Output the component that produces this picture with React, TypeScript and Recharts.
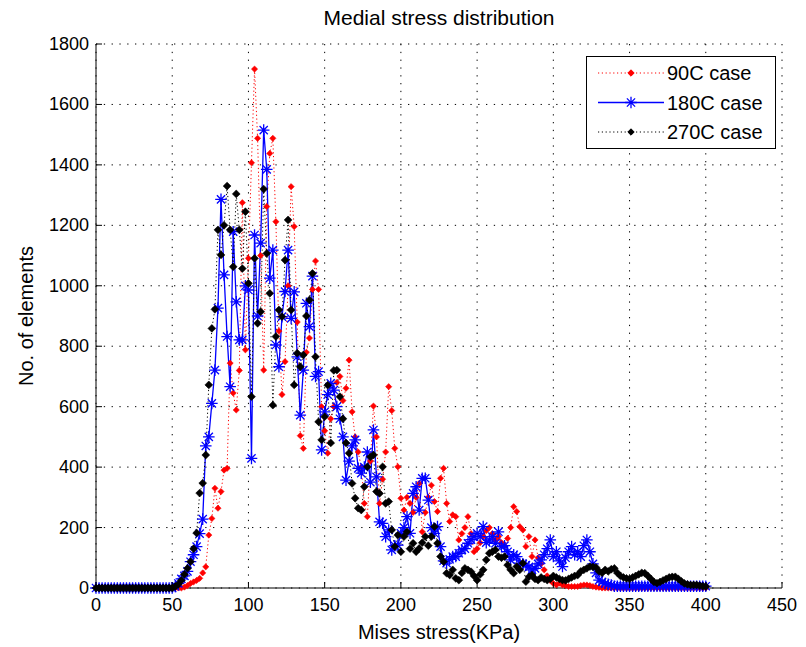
import React from 'react';
import { LineChart, Line, XAxis, YAxis, CartesianGrid, Legend } from 'recharts';

// Mises stress bins (KPa)
const stressKPa = [
  0, 2, 4, 6, 8, 10, 12, 14, 16, 18, 20, 22, 24, 26, 28, 30, 32, 34, 36, 38, 40, 42, 44, 46, 48, 50,
  52, 54, 56, 58, 60, 62, 64, 66, 68, 70, 72, 74, 76, 78, 80, 82, 84, 86, 88, 90, 92, 94, 96, 98,
  100, 102, 104, 106, 108, 110, 112, 114, 116, 118, 120, 122, 124, 126, 128, 130, 132, 134, 136, 138,
  140, 142, 144, 146, 148, 150, 152, 154, 156, 158, 160, 162, 164, 166, 168, 170, 172, 174, 176, 178,
  180, 182, 184, 186, 188, 190, 192, 194, 196, 198, 200, 202, 204, 206, 208, 210, 212, 214, 216, 218,
  220, 222, 224, 226, 228, 230, 232, 234, 236, 238, 240, 242, 244, 246, 248, 250, 252, 254, 256, 258,
  260, 262, 264, 266, 268, 270, 272, 274, 276, 278, 280, 282, 284, 286, 288, 290, 292, 294, 296, 298,
  300, 302, 304, 306, 308, 310, 312, 314, 316, 318, 320, 322, 324, 326, 328, 330, 332, 334, 336, 338,
  340, 342, 344, 346, 348, 350, 352, 354, 356, 358, 360, 362, 364, 366, 368, 370, 372, 374, 376, 378,
  380, 382, 384, 386, 388, 390, 392, 394, 396, 398, 400,
];

// 90C case
const case90 = [
  0, 0, 0, 0, 0, 0, 0, 0, 0, 0, 0, 0, 0, 0, 0, 0, 0, 0, 0, 0, 0, 0, 0, 0, 0, 0,
  0, 0, 0, 3, 8, 15, 20, 25, 32, 50, 70, 175, 230, 330, 264, 319, 390, 396, 744, 645, 589, 720, 1275, 788,
  1091, 1407, 1717, 1488, 1100, 721, 1262, 1438, 1488, 1212, 850, 640, 749, 1000, 1328, 1196, 880, 504, 462, 780,
  827, 988, 1082, 988, 600, 520, 446, 560, 600, 680, 700, 620, 661, 754, 583, 500, 450, 400, 280, 236,
  420, 602, 500, 280, 360, 450, 666, 587, 462, 401, 297, 258, 300, 280, 250, 300, 346, 186, 250, 300,
  340, 286, 253, 363, 396, 280, 220, 242, 236, 159, 180, 200, 236, 180, 120, 130, 150, 170, 190, 200,
  180, 160, 170, 150, 140, 164, 200, 269, 253, 203, 192, 137, 170, 104, 159, 100, 80, 60, 40, 25,
  15, 10, 16, 10, 8, 5, 5, 5, 5, 8, 10, 10, 8, 5, 3, 2, 0, 0, 0, 0,
  0, 0, 0, 0, 0, 0, 0, 0, 0, 0, 0, 0, 0, 0, 0, 0, 0, 0, 0, 0,
  0, 0, 0, 0, 0, 0, 0, 0, 0, 0, 0,
];

// 180C case
const case180 = [
  0, 0, 0, 0, 0, 0, 0, 0, 0, 0, 0, 0, 0, 0, 0, 0, 0, 0, 0, 0, 0, 0, 0, 0, 0, 0,
  5, 15, 30, 40, 55, 87, 110, 137, 180, 228, 470, 500, 611, 721, 926, 1286, 1036, 832, 666, 1179, 947, 821, 821, 1000,
  986, 429, 1168, 900, 1141, 1515, 1385, 1025, 1118, 804, 732, 898, 981, 1118, 892, 980, 765, 572, 721, 942,
  865, 1032, 700, 716, 457, 583, 640, 677, 655, 600, 560, 500, 357, 420, 470, 490, 396, 380, 400, 450,
  350, 523, 368, 219, 214, 170, 192, 126, 140, 142, 181, 200, 236, 181, 313, 335, 258, 363, 363, 291,
  200, 181, 203, 137, 90, 82, 95, 104, 104, 115, 126, 130, 148, 160, 170, 181, 170, 203, 150, 159,
  170, 148, 186, 137, 140, 120, 93, 110, 104, 82, 80, 76, 70, 60, 65, 80, 93, 110, 130, 159,
  104, 120, 90, 71, 100, 120, 137, 110, 120, 104, 140, 159, 120, 80, 50, 26, 20, 15, 12, 10,
  6, 6, 6, 6, 6, 6, 6, 6, 6, 6, 6, 6, 6, 6, 6, 6, 6, 6, 6, 6,
  6, 6, 6, 6, 6, 6, 6, 6, 6, 6, 6,
];

// 270C case
const case270 = [
  0, 0, 0, 0, 0, 0, 0, 0, 0, 0, 0, 0, 0, 0, 0, 0, 0, 0, 0, 0, 0, 0, 0, 0, 0, 0,
  5, 12, 25, 45, 65, 87, 130, 182, 314, 347, 440, 672, 859, 922, 1185, 1102, 1200, 1330, 1185, 1063, 1304, 1185, 1057, 1245,
  1008, 633, 1091, 876, 914, 1320, 1107, 975, 605, 832, 920, 898, 1085, 1218, 920, 672, 777, 732, 771, 900,
  953, 1041, 765, 550, 490, 567, 671, 480, 720, 721, 633, 560, 480, 446, 346, 297, 264, 258, 335, 401,
  434, 440, 319, 313, 401, 280, 286, 192, 137, 175, 120, 170, 186, 130, 148, 120, 131, 150, 170, 140,
  170, 203, 148, 104, 87, 49, 43, 60, 32, 26, 50, 65, 60, 54, 40, 26, 45, 60, 93, 115,
  120, 126, 104, 100, 104, 76, 60, 49, 71, 60, 82, 21, 37, 43, 30, 26, 35, 30, 26, 30,
  40, 35, 30, 26, 25, 30, 35, 40, 43, 55, 60, 65, 71, 70, 68, 55, 50, 60, 55, 62,
  65, 50, 40, 35, 32, 30, 35, 40, 45, 50, 49, 40, 30, 20, 16, 20, 25, 30, 35, 37,
  37, 30, 22, 15, 12, 10, 10, 10, 8, 6, 5,
];

const xTicks = [0, 50, 100, 150, 200, 250, 300, 350, 400, 450];
const yTicks = [0, 200, 400, 600, 800, 1000, 1200, 1400, 1600, 1800];
const seriesNames = ['90C case', '180C case', '270C case'];
const titleText = 'Medial stress distribution';
const xLabelText = 'Mises stress(KPa)';
const yLabelText = 'No. of elements';

const data = stressKPa.map((x, i) => ({ x, c90: case90[i], c180: case180[i], c270: case270[i] }));

const FONT = "'Liberation Sans', Arial, Helvetica, sans-serif";
const RED = '#ff0000';
const BLUE = '#0000ff';
const BLACK = '#000000';

function diamond(cx: number, cy: number, r: number) {
  return `M${cx},${cy - r}L${cx + r},${cy}L${cx},${cy + r}L${cx - r},${cy}Z`;
}
function asterisk(cx: number, cy: number, r: number) {
  const d = r * 0.707;
  return `M${cx - r},${cy}H${cx + r}M${cx},${cy - r}V${cy + r}M${cx - d},${cy - d}L${cx + d},${cy + d}M${cx - d},${cy + d}L${cx + d},${cy - d}`;
}

const RedDot = (p: any) =>
  p.cx == null ? <g key={`r${p.index}`} /> : (
    <path key={`r${p.index}`} d={diamond(p.cx, p.cy, 3.1)} fill={RED} stroke={RED} strokeWidth={0.6} />
  );
const BlueDot = (p: any) =>
  p.cx == null ? <g key={`b${p.index}`} /> : (
    <path key={`b${p.index}`} d={asterisk(p.cx, p.cy, 5.8)} fill="none" stroke={BLUE} strokeWidth={1.3} />
  );
const BlackDot = (p: any) =>
  p.cx == null ? <g key={`k${p.index}`} /> : (
    <path key={`k${p.index}`} d={diamond(p.cx, p.cy, 3.9)} fill={BLACK} stroke={BLACK} strokeWidth={0.6} />
  );

const TICK_FONT = 18;

const LeftTick = (p: any) => (
  <g>
    <line x1={p.x} y1={p.y} x2={p.x + 6} y2={p.y} stroke="#000" />
    <text x={p.x - 7} y={p.y} textAnchor="end" dominantBaseline="central" fontFamily={FONT} fontSize={TICK_FONT} fill="#000">
      {p.payload.value}
    </text>
  </g>
);
const RightTick = (p: any) => (
  <line x1={p.x} y1={p.y} x2={p.x - 6} y2={p.y} stroke="#000" />
);
const BottomTick = (p: any) => (
  <g>
    <line x1={p.x} y1={p.y} x2={p.x} y2={p.y - 6} stroke="#000" />
    <text x={p.x} y={p.y + 17} textAnchor="middle" dominantBaseline="central" fontFamily={FONT} fontSize={TICK_FONT} fill="#000">
      {p.payload.value}
    </text>
  </g>
);
const TopTick = (p: any) => (
  <line x1={p.x} y1={p.y} x2={p.x} y2={p.y + 6} stroke="#000" />
);

const legendStyles = [
  { color: RED, dash: '1.2 2.6', width: 1, marker: 'diamond', r: 3.2 },
  { color: BLUE, dash: undefined, width: 1.3, marker: 'asterisk', r: 5.8 },
  { color: BLACK, dash: '1.2 2.6', width: 1, marker: 'diamond', r: 3.2 },
];

const LegendBox = () => (
  <div style={{ width: 190, height: 93, border: '1px solid #000', background: '#fff', boxSizing: 'border-box' }}>
    <svg width={188} height={91}>
      {seriesNames.map((name, i) => {
        const s = legendStyles[i];
        const y = 16 + i * 29.5;
        return (
          <g key={name}>
            <line x1={11} x2={77} y1={y} y2={y} stroke={s.color} strokeWidth={s.width} strokeDasharray={s.dash} />
            {s.marker === 'diamond' ? (
              <path d={diamond(44, y, s.r)} fill={s.color} stroke={s.color} />
            ) : (
              <path d={asterisk(44, y, s.r)} fill="none" stroke={s.color} strokeWidth={1.3} />
            )}
            <text x={80} y={y} dominantBaseline="central" fontFamily={FONT} fontSize={20} fill="#000">
              {name}
            </text>
          </g>
        );
      })}
    </svg>
  </div>
);

export default function App() {
  return (
    <div style={{ position: 'absolute', left: 0, top: 0, width: 806, height: 647, background: '#fff', fontFamily: FONT }}>
      <LineChart width={806} height={647} data={data} margin={{ top: 44, right: 24, bottom: 0, left: 0 }}>
        <CartesianGrid stroke="#000" strokeDasharray="1.3 6.5" strokeWidth={1} />
        <XAxis
          dataKey="x"
          type="number"
          domain={[0, 450]}
          ticks={xTicks}
          interval={0}
          height={59}
          tickSize={0}
          tickMargin={0}
          tickLine={false}
          tick={<BottomTick />}
          axisLine={{ stroke: '#000' }}
        />
        <XAxis
          xAxisId="top"
          orientation="top"
          dataKey="x"
          type="number"
          domain={[0, 450]}
          ticks={xTicks}
          interval={0}
          height={0}
          tickSize={0}
          tickMargin={0}
          tickLine={false}
          tick={<TopTick />}
          axisLine={{ stroke: '#000' }}
        />
        <YAxis
          type="number"
          domain={[0, 1800]}
          ticks={yTicks}
          interval={0}
          width={96}
          tickSize={0}
          tickMargin={0}
          tickLine={false}
          tick={<LeftTick />}
          axisLine={{ stroke: '#000' }}
        />
        <YAxis
          yAxisId="right"
          orientation="right"
          type="number"
          domain={[0, 1800]}
          ticks={yTicks}
          interval={0}
          width={0}
          tickSize={0}
          tickMargin={0}
          tickLine={false}
          tick={<RightTick />}
          axisLine={{ stroke: '#000' }}
        />
        <Line dataKey="c90" name={seriesNames[0]} stroke={RED} strokeWidth={1} strokeDasharray="1.2 2.6" dot={RedDot} isAnimationActive={false} />
        <Line dataKey="c180" name={seriesNames[1]} stroke={BLUE} strokeWidth={1.3} dot={BlueDot} isAnimationActive={false} />
        <Line dataKey="c270" name={seriesNames[2]} stroke={BLACK} strokeWidth={1} strokeDasharray="1.2 2.6" dot={BlackDot} isAnimationActive={false} />
        <Legend
          layout="vertical"
          align="center"
          verticalAlign="middle"
          content={<LegendBox />}
          wrapperStyle={{ position: 'absolute', left: 586, top: 56, width: 190, height: 93 }}
        />
      </LineChart>
      <div style={{ position: 'absolute', left: 439, top: 18, transform: 'translate(-50%, -50%)', fontSize: 21, whiteSpace: 'nowrap', color: '#000' }}>
        {titleText}
      </div>
      <div style={{ position: 'absolute', left: 439, top: 632, transform: 'translate(-50%, -50%)', fontSize: 20, whiteSpace: 'nowrap', color: '#000' }}>
        {xLabelText}
      </div>
      <div style={{ position: 'absolute', left: 26, top: 316, transform: 'translate(-50%, -50%) rotate(-90deg)', fontSize: 20, whiteSpace: 'nowrap', color: '#000' }}>
        {yLabelText}
      </div>
    </div>
  );
}
